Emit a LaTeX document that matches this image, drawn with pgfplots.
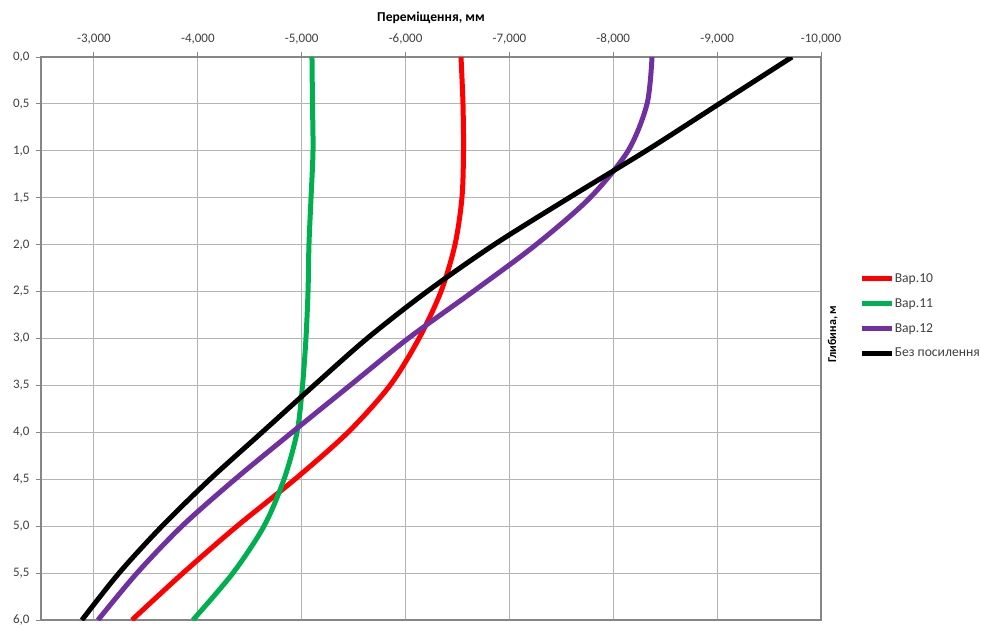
\documentclass[border=0pt]{standalone}
\usepackage{pgfplots}
\pgfplotsset{compat=1.18}
\usepackage{fontspec}
\setmainfont{Carlito}
\definecolor{exred}{HTML}{FF0000}
\definecolor{exgreen}{HTML}{00B050}
\definecolor{expurple}{HTML}{7030A0}
\definecolor{gridgray}{HTML}{B4B4B4}
\definecolor{axgray}{HTML}{868686}
\definecolor{txtgray}{HTML}{404040}
\begin{document}
\begin{tikzpicture}
\useasboundingbox (0,0) rectangle (981pt,626pt);
\begin{axis}[
  at={(41pt,6pt)}, anchor=south west,
  scale only axis, width=780pt, height=563pt,
  x dir=reverse, y dir=reverse,
  xmin=-10000, xmax=-2490, ymin=0, ymax=6,
  scaled x ticks=false, scaled y ticks=false,
  xtick={-3000,-4000,-5000,-6000,-7000,-8000,-9000,-10000},
  xticklabels={{-3,000},{-4,000},{-5,000},{-6,000},{-7,000},{-8,000},{-9,000},{-10,000}},
  ytick={0,0.5,1,1.5,2,2.5,3,3.5,4,4.5,5,5.5,6},
  yticklabels={{0,0},{0,5},{1,0},{1,5},{2,0},{2,5},{3,0},{3,5},{4,0},{4,5},{5,0},{5,5},{6,0}},
  xtick pos=right, xticklabel pos=right,
  ytick pos=left, yticklabel pos=left,
  tick align=outside, major tick length=5pt,
  tick style={axgray, line width=1pt},
  grid=major, grid style={gridgray, line width=1pt},
  axis line style={axgray, line width=1.2pt},
  every tick label/.append style={font=\fontsize{13}{15}\selectfont, text=txtgray},
  xticklabel style={yshift=4pt},
  yticklabel style={xshift=-3pt},
  xlabel={Переміщення, мм},
  xlabel style={at={(axis description cs:0.5,1)}, anchor=center, yshift=39pt, font=\fontsize{13.6}{15}\selectfont\bfseries},
  ylabel={Глибина, м},
  ylabel style={at={(axis description cs:1.015,0.508)}, anchor=center, rotate=0, font=\fontsize{12}{14}\selectfont\bfseries},
  legend style={draw=none, fill=none, at={(axis description cs:1.045,0.62)}, anchor=north west,
    font=\fontsize{13.6}{15}\selectfont, text=txtgray, row sep=13.5pt,
    nodes={inner sep=0.5pt}, /tikz/every even column/.append style={column sep=0pt}},
  legend cell align=left,
  legend image code/.code={\draw[#1, line width=5pt] (0pt,0pt) -- (30pt,0pt);},
  every axis plot/.append style={line width=5pt, smooth, no marks},
  clip=true,
]
\addplot[exred, smooth] coordinates {
(-6534,0) (-6553,0.5) (-6558,1.0) (-6543,1.5) (-6476,2.0) (-6341,2.5) (-6129,3.0)
(-5850,3.5) (-5446,4.0) (-4935,4.5) (-4377,5.0) (-3857,5.5) (-3366,6.0)};
\addlegendentry{Вар.10}
\addplot[exgreen, smooth] coordinates {
(-5099,0) (-5104,0.5) (-5109,1.0) (-5090,1.5) (-5070,2.0) (-5061,2.5) (-5041,3.0)
(-5008,3.5) (-4955,4.0) (-4830,4.5) (-4637,5.0) (-4338,5.5) (-3953,6.0)};
\addlegendentry{Вар.11}
\addplot[expurple, smooth] coordinates {
(-8373,0) (-8325,0.5) (-8142,1.0) (-7776,1.5) (-7256,2.0) (-6649,2.5) (-6024,3.0)
(-5465,3.5) (-4907,4.0) (-4358,4.5) (-3847,5.0) (-3414,5.5) (-3039,6.0)};
\addlegendentry{Вар.12}
\addplot[black, smooth] coordinates {
(-9721,0) (-9018,0.5) (-8315,1.0) (-7574,1.5) (-6852,2.0) (-6206,2.5) (-5629,3.0)
(-5118,3.5) (-4618,4.0) (-4117,4.5) (-3655,5.0) (-3241,5.5) (-2884,6.0)};
\addlegendentry{Без посилення}
\end{axis}
\end{tikzpicture}
\end{document}
